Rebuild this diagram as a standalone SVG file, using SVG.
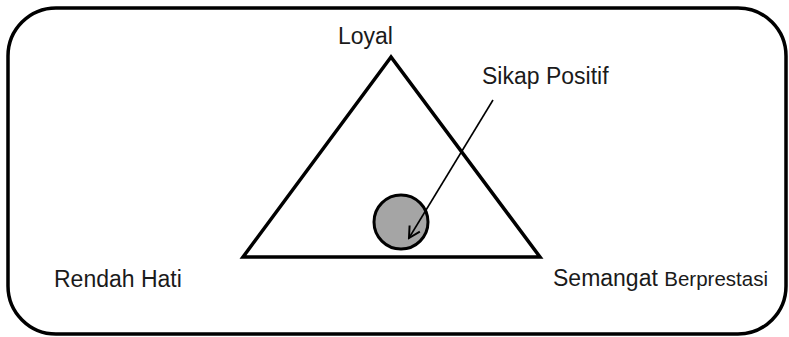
<svg xmlns="http://www.w3.org/2000/svg" width="789" height="337" viewBox="0 0 789 337">
<style>
text{font-family:"Liberation Sans",Arial,sans-serif;fill:#1a1a1a;font-size:23px}
.sm{font-size:20.5px}
.shape{fill:none;stroke:#000;stroke-width:3.5}
</style>
<defs>
<marker id="ah" markerWidth="14" markerHeight="14" refX="12" refY="7" orient="auto" markerUnits="userSpaceOnUse">
<path d="M1,1 L12,7 L1,13" fill="none" stroke="#000" stroke-width="2"/>
</marker>
</defs>
<rect width="789" height="337" fill="#fff"/>
<g id="frame"><rect x="8" y="8" width="778" height="326" rx="48" ry="48" class="shape" stroke-width="3"/></g>
<g id="triangle"><polygon points="391,57 243,257 540,257" class="shape" stroke-linejoin="miter"/></g>
<g id="circle"><circle cx="401" cy="222" r="27" fill="#a5a5a5" stroke="#000" stroke-width="3"/></g>
<g id="connectors"><line x1="493" y1="100" x2="409" y2="238" stroke="#000" stroke-width="1.6" marker-end="url(#ah)"/></g>
<g id="label-loyal"><text x="338" y="44">Loyal</text></g>
<g id="label-sikap"><text x="482" y="84">Sikap Positif</text></g>
<g id="label-rendah"><text x="54" y="287">Rendah Hati</text></g>
<g id="label-semangat"><text x="553" y="286">Semangat <tspan class="sm">Berprestasi</tspan></text></g>
</svg>
